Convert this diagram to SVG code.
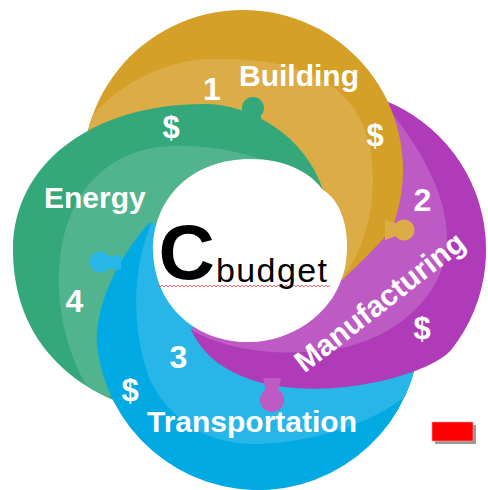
<svg xmlns="http://www.w3.org/2000/svg" xmlns:xlink="http://www.w3.org/1999/xlink" width="488" height="490" viewBox="0 0 488 490">
<style>
.lbl{font-family:"Liberation Sans",Arial,sans-serif;font-weight:bold;fill:#fff;font-size:30px}
.num{font-family:"Liberation Sans",Arial,sans-serif;font-weight:bold;fill:#fff;font-size:32px;text-anchor:middle}
.cur{font-family:"Liberation Sans",Arial,sans-serif;font-weight:bold;fill:#fff;font-size:31px;text-anchor:middle}
</style>
<defs>
<path id="goldShape" d="M120,250 L83.2,178.4 A160 160 0 1 1 391.3,229.9 Q368,256 342,280 L300,262 L200,200 Z"/>
<path id="greenShape" d="M118,402 C45,372 13,315 13,250 C13,165 90,104 205,104 C250,104 305,135 323,190 L300,215 L200,300 Z"/>
<path id="blueShape" d="M150,222 C120,255 97,300 96.6,341 A162 162 0 0 0 419.8,318.5 L330,290 L200,250 Z"/>
<path id="purpleShape" d="M330,89 A161 161 0 0 1 451.9,349.1 C424,384.5 235,425 191,330 L230,290 L300,230 L345,190 Z"/>
<clipPath id="clipGold"><use xlink:href="#goldShape"/></clipPath>
<clipPath id="clipGreen"><use xlink:href="#greenShape"/></clipPath>
<clipPath id="clipBlue"><use xlink:href="#blueShape"/></clipPath>
<clipPath id="clipPurple"><use xlink:href="#purpleShape"/></clipPath>
<clipPath id="clipTop"><polygon points="300,0 488,0 488,330 300,330 300,235 330,200 318,170 300,140"/></clipPath>
<pattern id="wave" x="0" y="0" width="4" height="4" patternUnits="userSpaceOnUse"><path d="M0,3 L2,1 L4,3" fill="none" stroke="#f04040" stroke-width="0.8"/></pattern>
</defs>

<g id="building">
<g id="buildingArt">
<use xlink:href="#goldShape" fill="#D5A027"/>
<path clip-path="url(#clipGold)" fill="#DCAC46" d="M70,140 L92,116 C118,85 165,59 213,59 C320,57 373,95 373,180 C373,220 360,255 343,278 L250,250 L90,240 Z"/>
<circle cx="404" cy="230" r="10.5" fill="#DCAC46"/>
<path d="M385,220 L396,223 L396,236 L385,240 Z" fill="#DCAC46"/>
</g>
</g>

<g id="energy">
<use xlink:href="#greenShape" fill="#34A77B"/>
<path clip-path="url(#clipGreen)" fill="#52B48E" d="M100,405 C65,362 55,300 60,260 C66,200 100,150 170,146 C230,143 290,165 325,192 L250,250 L200,320 Z"/>
<circle cx="253" cy="108" r="11" fill="#34A77B"/>
<path d="M246,111 L260,111 L262,123 L244,123 Z" fill="#34A77B"/>
</g>

<g id="transportation">
<use xlink:href="#blueShape" fill="#02AAE3"/>
<path clip-path="url(#clipBlue)" fill="#28B6E9" d="M152,222 C135,260 128,320 150,380 C175,430 220,445 257,444 C310,443 380,425 425,380 L420,300 L250,250 Z"/>
<circle cx="100" cy="262" r="10.5" fill="#28B6E9"/>
<path d="M104,257 L121,255 L121,270 L104,268 Z" fill="#28B6E9"/>
</g>

<g id="manufacturing">
<use xlink:href="#purpleShape" fill="#B03BB8"/>
<path clip-path="url(#clipPurple)" fill="#BE5AC4" d="M385,105 C415,140 447,190 447,240 C447,290 400,340 330,350 C280,356 230,352 191,330 L250,250 L330,150 Z"/>
<circle cx="272" cy="400" r="12" fill="#BE5AC4"/>
<path d="M263,378 L281,378 L278,392 L266,392 Z" fill="#BE5AC4"/>
</g>

<g id="building-overlap">
<use xlink:href="#buildingArt" clip-path="url(#clipTop)"/>
</g>

<g id="center">
<path fill="#fff" d="M250,159 C285,159 310,172 323,190 C340,200 348,225 347,250 C346,265 345,270 342,278 C330,315 290,342 250,342 C200,343 155,310 153,251 C153,195 195,159 250,159 Z"/>
<rect x="158" y="284" width="172" height="4" fill="url(#wave)"/>
<text x="158.5" y="279" font-family="Liberation Sans, Arial, sans-serif" font-weight="bold" font-size="78" fill="#000">C</text>
<text x="216" y="282" font-family="Liberation Sans, Arial, sans-serif" font-size="34" fill="#000" textLength="111" lengthAdjust="spacing">budget</text>
</g>

<g id="labels">
<text class="lbl" x="239" y="86">Building</text>
<text class="num" x="212" y="100">1</text>
<text class="cur" x="375" y="146">$</text>
<text class="cur" x="171" y="138">$</text>
<text class="lbl" x="44" y="208">Energy</text>
<text class="num" x="422.5" y="211">2</text>
<text class="lbl" x="386" y="310" text-anchor="middle" transform="rotate(-38 386 310)">Manufacturing</text>
<text class="cur" x="422" y="339">$</text>
<text class="num" x="74.5" y="312" font-size="36">4</text>
<text class="num" x="178.5" y="368">3</text>
<text class="cur" x="130" y="401">$</text>
<text class="lbl" x="147" y="432">Transportation</text>
</g>

<g id="marker">
<rect x="435" y="425" width="41" height="19" fill="#999"/>
<rect x="432" y="422" width="41" height="19" fill="#FF0000" stroke="#ff9a9a" stroke-width="0.6"/>
</g>
</svg>
